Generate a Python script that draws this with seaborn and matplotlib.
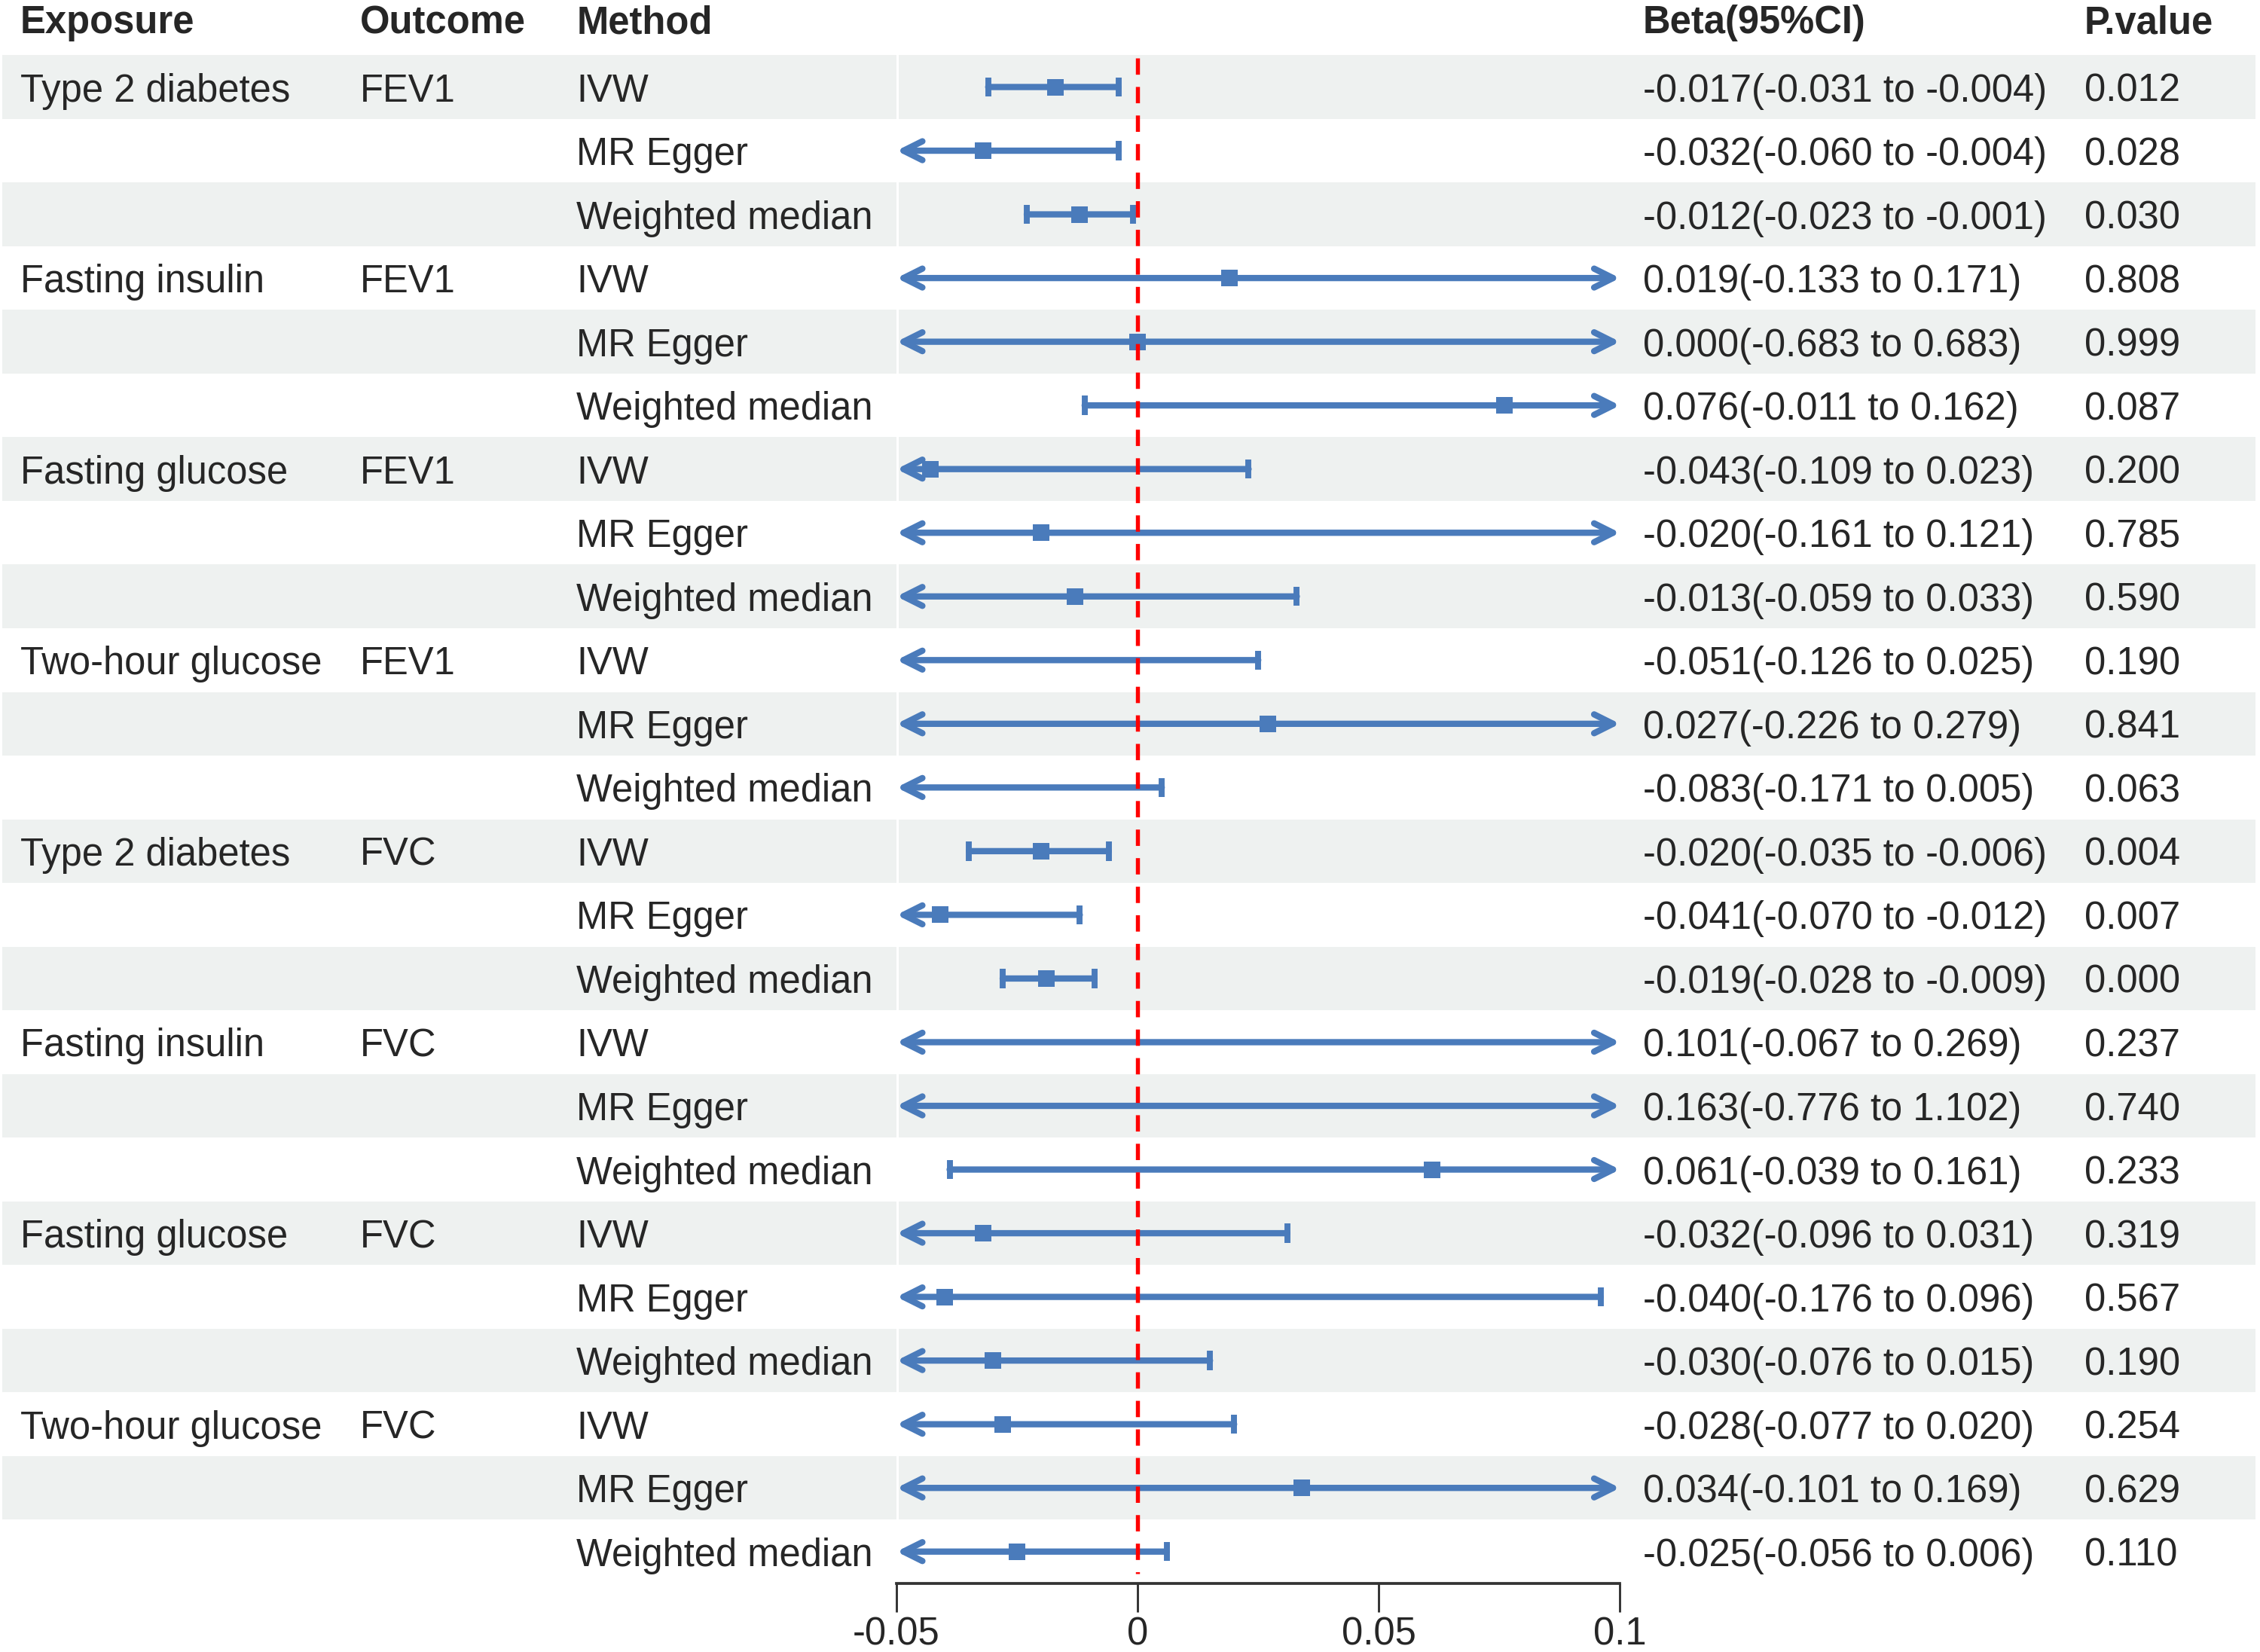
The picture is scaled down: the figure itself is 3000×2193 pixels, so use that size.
import pandas as pd
import matplotlib
matplotlib.use("Agg")
import matplotlib.pyplot as plt
import matplotlib.transforms as mtransforms
from matplotlib.patches import Rectangle
import seaborn as sns

# groups of three methods each
exposures = ["Type 2 diabetes", "Fasting insulin", "Fasting glucose", "Two-hour glucose",
             "Type 2 diabetes", "Fasting insulin", "Fasting glucose", "Two-hour glucose"]
outcomes = ["FEV1", "FEV1", "FEV1", "FEV1", "FVC", "FVC", "FVC", "FVC"]
methods = ["IVW", "MR Egger", "Weighted median"]

beta = [-0.017, -0.032, -0.012, 0.019, 0.000, 0.076, -0.043, -0.020, -0.013,
        -0.051, 0.027, -0.083, -0.020, -0.041, -0.019, 0.101, 0.163, 0.061,
        -0.032, -0.040, -0.030, -0.028, 0.034, -0.025]
ci_low = [-0.031, -0.060, -0.023, -0.133, -0.683, -0.011, -0.109, -0.161, -0.059,
          -0.126, -0.226, -0.171, -0.035, -0.070, -0.028, -0.067, -0.776, -0.039,
          -0.096, -0.176, -0.076, -0.077, -0.101, -0.056]
ci_high = [-0.004, -0.004, -0.001, 0.171, 0.683, 0.162, 0.023, 0.121, 0.033,
           0.025, 0.279, 0.005, -0.006, -0.012, -0.009, 0.269, 1.102, 0.161,
           0.031, 0.096, 0.015, 0.020, 0.169, 0.006]
pvals = ["0.012", "0.028", "0.030", "0.808", "0.999", "0.087", "0.200", "0.785", "0.590",
         "0.190", "0.841", "0.063", "0.004", "0.007", "0.000", "0.237", "0.740", "0.233",
         "0.319", "0.567", "0.190", "0.254", "0.629", "0.110"]

xticks = [-0.05, 0, 0.05, 0.1]
xtick_labels = ["-0.05", "0", "0.05", "0.1"]
headers = ["Exposure", "Outcome", "Method", "Beta(95%CI)", "P.value"]

BLUE = "#4A7BBB"
SHADE = "#EEF1F0"
FS = 12.2
XMIN, XMAX = xticks[0], xticks[-1]

df = pd.DataFrame({"beta": beta, "lo": ci_low, "hi": ci_high, "p": pvals})
df["row"] = range(1, len(df) + 1)
df["method"] = methods * len(exposures)

sns.set_theme(style="white")
plt.rcParams["font.family"] = ["Liberation Sans", "DejaVu Sans"]

fig = plt.figure(figsize=(10, 7.31), dpi=300)
ax = fig.add_axes([0.3967, 0.0415, 0.3201, 0.9251])
ax.patch.set_alpha(0)
blend = mtransforms.blended_transform_factory(fig.transFigure, ax.transData)

# striped background
for r in df["row"]:
    if r % 2 == 1:
        ax.add_patch(Rectangle((0.001, r - 0.5), 0.997, 1, transform=blend,
                               facecolor=SHADE, edgecolor="none", zorder=0, clip_on=False))
ax.axvline(XMIN, color="white", lw=1.2, zorder=1)

# confidence intervals, arrows where they run off the scale
head = ",head_length=0.5,head_width=0.25"
for _, d in df.iterrows():
    y = d["row"]
    lo_c, hi_c = max(d["lo"], XMIN), min(d["hi"], XMAX)
    left, right = d["lo"] < XMIN, d["hi"] > XMAX
    if left and right:
        style = "<->" + head
    elif left:
        style = "<-" + head
    elif right:
        style = "->" + head
    else:
        style = "-"
    ax.annotate("", xy=(hi_c, y), xytext=(lo_c, y), annotation_clip=False,
                arrowprops=dict(arrowstyle=style, color=BLUE, lw=2.0,
                                shrinkA=0, shrinkB=0), zorder=3)
    if not left:
        ax.vlines(lo_c, y - 0.15, y + 0.15, color=BLUE, lw=1.9, zorder=3)
    if not right:
        ax.vlines(hi_c, y - 0.15, y + 0.15, color=BLUE, lw=1.9, zorder=3)

pts = df[(df["beta"] >= XMIN) & (df["beta"] <= XMAX)]
sns.scatterplot(data=pts, x="beta", y="row", marker="s", s=26, color=BLUE,
                linewidth=0, ax=ax, zorder=4, clip_on=False)

ax.vlines(0, 0.55, 24.35, color="red", lw=1.3, linestyles=(0, (4, 3)), zorder=5)

# text columns
col_x = [0.0089, 0.1594, 0.2551, 0.727, 0.9222]
for cx, h in zip(col_x, headers):
    ax.text(cx, -0.07, h, transform=blend, fontsize=FS, fontweight="bold",
            va="center_baseline", ha="left")
for g, (expo, outc) in enumerate(zip(exposures, outcomes)):
    y = g * 3 + 1
    ax.text(col_x[0], y, expo, transform=blend, fontsize=FS, va="center_baseline")
    ax.text(col_x[1], y, outc, transform=blend, fontsize=FS, va="center_baseline")
for _, d in df.iterrows():
    y = d["row"]
    ax.text(col_x[2], y, d["method"], transform=blend, fontsize=FS, va="center_baseline")
    ax.text(col_x[3], y, f"{d['beta']:.3f}({d['lo']:.3f} to {d['hi']:.3f})",
            transform=blend, fontsize=FS, va="center_baseline")
    ax.text(col_x[4], y, d["p"], transform=blend, fontsize=FS, va="center_baseline")

ax.set_xlim(XMIN, XMAX)
ax.set_ylim(24.5, 0.5)
ax.set_xticks(xticks)
ax.set_xticklabels(xtick_labels, fontsize=FS)
ax.set_yticks([])
ax.set_xlabel("")
ax.set_ylabel("")
for s in ["top", "left", "right"]:
    ax.spines[s].set_visible(False)
ax.spines["bottom"].set_color("#333333")
ax.spines["bottom"].set_linewidth(0.9)
ax.tick_params(axis="x", direction="out", length=9, width=0.7, color="#333333",
               pad=1.5, bottom=True)

fig.savefig("out.png", dpi=300)
